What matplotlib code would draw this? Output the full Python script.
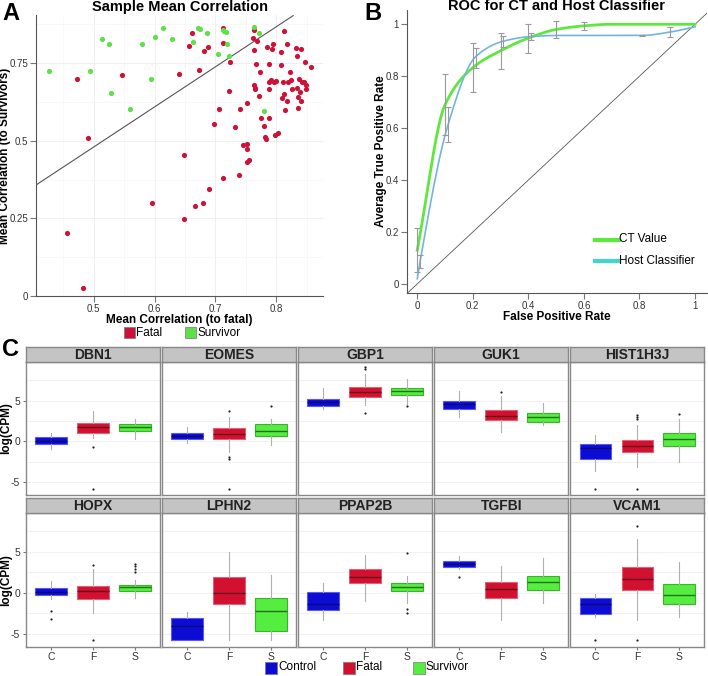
import numpy as np
import matplotlib
matplotlib.use("Agg")
import matplotlib.pyplot as plt
from matplotlib.patches import Rectangle

plt.rcParams['font.family'] = ['Liberation Sans', 'DejaVu Sans']

# ---------------- Panel A data ----------------
fatal_x = [0.473, 0.490, 0.547, 0.456, 0.482, 0.595, 0.641, 0.648, 0.648, 0.657,
           0.662, 0.666, 0.673, 0.680, 0.682, 0.688, 0.690, 0.697, 0.706, 0.712,
           0.713, 0.713, 0.722, 0.724, 0.732, 0.739, 0.740, 0.746, 0.752, 0.752,
           0.752, 0.755, 0.752, 0.763, 0.762, 0.763, 0.763, 0.765, 0.765, 0.767,
           0.769, 0.772, 0.774, 0.775, 0.780, 0.781, 0.784, 0.785, 0.788, 0.788,
           0.789, 0.788, 0.791, 0.793, 0.794, 0.796, 0.799, 0.798, 0.803, 0.808,
           0.808, 0.810, 0.811, 0.813, 0.813, 0.815, 0.817, 0.817, 0.819, 0.822,
           0.824, 0.826, 0.832, 0.834, 0.834, 0.836, 0.837, 0.836, 0.839, 0.840,
           0.841, 0.842, 0.845, 0.848, 0.849, 0.849, 0.857]
fatal_y = [0.700, 0.509, 0.712, 0.203, 0.025, 0.300, 0.714, 0.454, 0.248, 0.806,
           0.848, 0.291, 0.727, 0.301, 0.788, 0.801, 0.344, 0.553, 0.602, 0.864,
           0.815, 0.381, 0.661, 0.755, 0.544, 0.389, 0.602, 0.487, 0.491, 0.473,
           0.433, 0.438, 0.622, 0.856, 0.830, 0.792, 0.678, 0.671, 0.666, 0.747,
           0.820, 0.645, 0.722, 0.572, 0.547, 0.512, 0.506, 0.801, 0.746, 0.690,
           0.668, 0.572, 0.695, 0.796, 0.813, 0.690, 0.693, 0.519, 0.525, 0.744,
           0.786, 0.638, 0.689, 0.853, 0.652, 0.598, 0.629, 0.812, 0.690, 0.723,
           0.695, 0.667, 0.799, 0.774, 0.671, 0.641, 0.698, 0.607, 0.656, 0.629,
           0.794, 0.690, 0.690, 0.753, 0.678, 0.667, 0.738]
surv_x = [0.426, 0.494, 0.514, 0.525, 0.529, 0.559, 0.580, 0.594, 0.600, 0.614,
          0.629, 0.664, 0.671, 0.674, 0.686, 0.704, 0.712, 0.715, 0.718, 0.719,
          0.723, 0.763, 0.771, 0.780]
surv_y = [0.724, 0.724, 0.828, 0.810, 0.655, 0.601, 0.813, 0.698, 0.835, 0.862,
          0.829, 0.819, 0.863, 0.861, 0.847, 0.778, 0.858, 0.854, 0.850, 0.812,
          0.773, 0.865, 0.847, 0.595]
ref_slope = 1.29
ref_intercept = -0.165

# ---------------- Panel B data ----------------
ct_fpr = [0.0, 0.1, 0.2, 0.3, 0.4, 0.5, 0.6, 0.7, 0.8, 0.9, 1.0]
ct_tpr = [0.13, 0.69, 0.833, 0.898, 0.947, 0.980, 0.994, 1.0, 1.0, 1.0, 1.0]
ct_err_x = [0.0, 0.1, 0.2, 0.3, 0.4, 0.5, 0.6]
ct_err_lo = [0.044, 0.574, 0.738, 0.828, 0.891, 0.947, 0.978]
ct_err_hi = [0.217, 0.809, 0.927, 0.968, 1.003, 1.014, 1.010]
host_fpr = [0.0, 0.01, 0.11, 0.21, 0.31, 0.41, 0.51, 0.61, 0.71, 0.81, 0.91, 1.0]
host_tpr = [0.02, 0.086, 0.61, 0.875, 0.935, 0.953, 0.957, 0.957, 0.957, 0.957, 0.97, 0.99]
host_err_x = [0.01, 0.11, 0.21, 0.31, 0.41, 0.81, 0.91]
host_err_lo = [0.060, 0.547, 0.830, 0.914, 0.940, 0.955, 0.950]
host_err_hi = [0.112, 0.680, 0.908, 0.955, 0.965, 0.960, 0.988]

# ---------------- Panel C data ----------------
genes = ['DBN1', 'EOMES', 'GBP1', 'GUK1', 'HIST1H3J',
         'HOPX', 'LPHN2', 'PPAP2B', 'TGFBI', 'VCAM1']
groups = ['C', 'F', 'S']
box_med = [[0.08, 1.76, 1.71], [0.69, 0.90, 1.27], [4.82, 6.08, 6.16], [4.57, 3.18, 3.02], [-0.86, -0.57, 0.24],
           [0.10, 0.16, 0.73], [-4.07, 0.00, -2.24], [-1.34, 1.91, 0.73], [3.58, 0.41, 1.30], [-1.42, 1.71, -0.33]]
box_q1 = [[-0.33, 1.06, 1.27], [0.33, 0.24, 0.65], [4.41, 5.51, 5.71], [4.04, 2.57, 2.41], [-2.16, -1.35, -0.57],
          [-0.33, -0.73, 0.24], [-5.77, -1.42, -4.63], [-2.11, 1.18, 0.16], [3.21, -0.61, 0.28], [-2.56, 0.33, -1.42]]
box_q3 = [[0.49, 2.20, 2.12], [1.06, 1.63, 2.12], [5.22, 6.73, 6.61], [5.02, 3.88, 3.51], [-0.33, 0.12, 0.98],
          [0.57, 0.89, 0.98], [-3.05, 1.91, -0.61], [0.08, 2.93, 1.22], [3.90, 1.26, 2.11], [-0.61, 3.13, 1.10]]
box_wlo = [[-0.98, 0.37, 0.33], [-0.16, -1.27, -0.45], [4.00, 4.53, 4.65], [3.02, 1.18, 2.00], [-3.59, -3.18, -2.49],
           [-0.73, -2.48, -0.61], [-5.77, -5.77, -5.77], [-3.33, -1.02, -1.22], [2.93, -3.33, -1.22], [-2.97, -3.37, -2.97]]
box_whi = [[1.06, 3.76, 2.78], [1.80, 3.00, 2.69], [6.57, 8.30, 7.71], [6.16, 5.55, 4.69], [0.73, 1.96, 2.78],
           [1.38, 2.85, 1.54], [-2.32, 5.04, 2.20], [1.22, 4.67, 2.11], [4.47, 3.33, 4.27], [-0.20, 6.59, 3.78]]
box_out = [[[], [-0.73, -5.88], []], [[], [3.76, -1.88, -2.20, -5.88], [4.37]],
           [[], [8.94, 9.10, 3.47], [4.41]], [[], [6.04], []],
           [[-5.88], [3.27, 3.02, 2.78, -5.88], [3.39]],
           [[-2.24, -3.17], [3.41, -5.77], [3.58, 3.25, 2.93, 2.60]], [[], [], []],
           [[], [], [4.84, -2.03, -2.44]], [[1.87], [], []], [[-5.77], [8.13, -5.77], []]]

W, H = 708, 676
fig = plt.figure(figsize=(W / 100, H / 100), dpi=100)


def rect(l, t, r, b):
    return [l / W, 1 - b / H, (r - l) / W, (b - t) / H]


RED = '#cc1236'
GREEN = '#5ee04a'
TICKC = '#777777'

# ---------------- Panel A ----------------
A_L, A_R = 36, 323
axA = fig.add_axes(rect(A_L, 15, A_R, 296))
axA.scatter(fatal_x, fatal_y, s=14, color=RED, linewidths=0, zorder=3)
axA.scatter(surv_x, surv_y, s=14, color=GREEN, linewidths=0, zorder=3)
xl = np.array([0.405, 0.828])
axA.plot(xl, ref_intercept + ref_slope * xl, color='#555555', lw=0.8, zorder=2)
axA.set_xlim(0.405, 0.877)
axA.set_ylim(0, 0.905)
axA.set_xticks([0.5, 0.6, 0.7, 0.8])
axA.set_xticklabels(['0.5', '0.6', '0.7', '0.8'])
axA.set_yticks([0, 0.25, 0.5, 0.75])
axA.set_yticklabels(['0', '0.25', '0.5', '0.75'])
axA.set_xticks([0.45, 0.55, 0.65, 0.75, 0.85], minor=True)
axA.set_yticks([0.125, 0.375, 0.625, 0.875], minor=True)
axA.tick_params(labelsize=7, length=4.5, width=0.8, color=TICKC, pad=1, labelcolor='#333333')
axA.tick_params(which='minor', length=0)
axA.grid(True, which='major', color='#ececec', lw=0.6)
axA.grid(True, which='minor', color='#f5f5f5', lw=0.5)
axA.set_axisbelow(True)
for s in ['top', 'right']:
    axA.spines[s].set_visible(False)
for s in ['left', 'bottom']:
    axA.spines[s].set_color('#555555')
    axA.spines[s].set_linewidth(0.8)
axA.set_xlabel('Mean Correlation (to fatal)', fontsize=8.5, fontweight='bold', labelpad=0)
axA.set_ylabel('Mean Correlation (to Survivors)', fontsize=8.5, fontweight='bold')
axA.yaxis.set_label_coords((11 - A_L) / (A_R - A_L), 0.5)
fig.text(180 / W, 1 - 10.5 / H, 'Sample Mean Correlation', ha='center', va='baseline',
         fontsize=10.5, fontweight='bold')
fig.text(2 / W, 1 - 20 / H, 'A', ha='left', va='baseline', fontsize=17, fontweight='bold')

# legend A
for px, lab, col in [(124, 'Fatal', RED), (185, 'Survivor', GREEN)]:
    fig.patches.append(Rectangle((px / W, 1 - 338 / H), 11 / W, 11 / H, transform=fig.transFigure,
                                 facecolor=col, edgecolor='#777777', lw=0.5))
    fig.text((px + 12) / W, 1 - 332.5 / H, lab, ha='left', va='center', fontsize=8.5)


# ---------------- Panel B ----------------
def pchip(x, y, xs):
    x = np.asarray(x, float); y = np.asarray(y, float)
    h = np.diff(x); d = np.diff(y) / h
    n = len(x); m = np.zeros(n)
    m[0] = d[0]; m[-1] = d[-1]
    for k in range(1, n - 1):
        if d[k - 1] * d[k] <= 0:
            m[k] = 0
        else:
            w1 = 2 * h[k] + h[k - 1]; w2 = h[k] + 2 * h[k - 1]
            m[k] = (w1 + w2) / (w1 / d[k - 1] + w2 / d[k])
    idx = np.clip(np.searchsorted(x, xs) - 1, 0, n - 2)
    t = (xs - x[idx]) / h[idx]
    h00 = 2 * t**3 - 3 * t**2 + 1; h10 = t**3 - 2 * t**2 + t
    h01 = -2 * t**3 + 3 * t**2; h11 = t**3 - t**2
    return h00 * y[idx] + h10 * h[idx] * m[idx] + h01 * y[idx + 1] + h11 * h[idx] * m[idx + 1]


B_L, B_R = 406.7, 706.7
axB = fig.add_axes(rect(B_L, 10, B_R, 293))
axB.set_xlim(-0.038, 1.042)
axB.set_ylim(-0.035, 1.055)
axB.plot([-0.038, 1.042], [-0.038, 1.042], color='#555555', lw=0.6, zorder=1)
xs = np.linspace(0, 1, 400)
axB.plot(xs, pchip(ct_fpr, ct_tpr, xs), color='#5ee83c', lw=2.0, zorder=3)
axB.plot(xs, pchip(host_fpr, host_tpr, xs), color='#74b4dc', lw=1.2, zorder=3)
ct_mid = [(a + b) / 2 for a, b in zip(ct_err_lo, ct_err_hi)]
ct_half = [(b - a) / 2 for a, b in zip(ct_err_lo, ct_err_hi)]
axB.errorbar(ct_err_x, ct_mid, yerr=ct_half, fmt='none', ecolor='#999999', elinewidth=0.8,
             capsize=2, capthick=0.8, zorder=4)
h_mid = [(a + b) / 2 for a, b in zip(host_err_lo, host_err_hi)]
h_half = [(b - a) / 2 for a, b in zip(host_err_lo, host_err_hi)]
axB.errorbar(host_err_x, h_mid, yerr=h_half, fmt='none', ecolor='#999999', elinewidth=0.8,
             capsize=2, capthick=0.8, zorder=4)
axB.set_xticks([0, 0.2, 0.4, 0.6, 0.8, 1])
axB.set_xticklabels(['0', '0.2', '0.4', '0.6', '0.8', '1'])
axB.set_yticks([0, 0.2, 0.4, 0.6, 0.8, 1])
axB.set_yticklabels(['0', '0.2', '0.4', '0.6', '0.8', '1'])
axB.tick_params(labelsize=7, length=4.5, width=0.8, color=TICKC, pad=1, labelcolor='#333333')
for s in ['top', 'right']:
    axB.spines[s].set_visible(False)
for s in ['left', 'bottom']:
    axB.spines[s].set_color('#555555')
    axB.spines[s].set_linewidth(0.8)
axB.set_xlabel('False Positive Rate', fontsize=8.5, fontweight='bold', labelpad=0)
axB.set_ylabel('Average True Positive Rate', fontsize=8.5, fontweight='bold')
axB.yaxis.set_label_coords((387 - B_L) / (B_R - B_L), 0.5)
fig.text(557 / W, 1 - 10.5 / H, 'ROC for CT and Host Classifier', ha='center', va='baseline',
         fontsize=10.5, fontweight='bold')
fig.text(364 / W, 1 - 20 / H, 'B', ha='left', va='baseline', fontsize=17, fontweight='bold')
for py, lab, col in [(239.5, 'CT Value', '#5ee83c'), (261, 'Host Classifier', '#3cd8cc')]:
    fig.lines.append(plt.Line2D([595 / W, 619 / W], [1 - py / H, 1 - py / H], transform=fig.transFigure,
                                color=col, lw=3))
    fig.text(619 / W, 1 - py / H, lab, ha='left', va='center', fontsize=8.5)

# ---------------- Panel C ----------------
FILL = ['#0c0cd4', '#d2102f', '#55ee40']
EDGE = ['#5a5aee', '#e26078', '#3ab22c']
MEDC = ['#0a0a70', '#6a0a1a', '#23701c']
col_left = [25.7, 161.8, 297.9, 434.0, 570.1]
pw = 134.3
rows = [(347.3, 361.7, 495.0), (498.3, 512.7, 646.7)]
for gi, gene in enumerate(genes):
    r, c = divmod(gi, 5)
    st, pt, pb = rows[r]
    l = col_left[c]
    ax = fig.add_axes(rect(l, pt, l + pw, pb))
    stats = []
    for k in range(3):
        stats.append(dict(med=box_med[gi][k], q1=box_q1[gi][k], q3=box_q3[gi][k],
                          whislo=box_wlo[gi][k], whishi=box_whi[gi][k],
                          fliers=box_out[gi][k], label=groups[k]))
    for k in range(3):
        ax.bxp([stats[k]], positions=[k + 1], widths=0.75, patch_artist=True,
               boxprops=dict(facecolor=FILL[k], edgecolor=EDGE[k], lw=0.8),
               medianprops=dict(color=MEDC[k], lw=1.0),
               whiskerprops=dict(color='#b0b0b0', lw=0.8),
               capprops=dict(lw=0),
               flierprops=dict(marker='o', markersize=1.6, markerfacecolor='#222222',
                               markeredgecolor='none'),
               zorder=3)
    ax.set_xlim(0.4, 3.6)
    ax.set_ylim(-6.6, 9.8)
    ax.set_yticks([-5, 0, 5])
    ax.set_yticks([-2.5, 2.5, 7.5], minor=True)
    ax.grid(True, axis='y', which='both', color='#efefef', lw=0.6)
    ax.set_axisbelow(True)
    ax.set_xticks([1, 2, 3])
    for s in ax.spines.values():
        s.set_color('#888888')
        s.set_linewidth(1.0)
    ax.tick_params(which='minor', length=0)
    if r == 1:
        ax.set_xticklabels(groups, fontsize=7.5)
        ax.tick_params(axis='x', length=2.5, color=TICKC, pad=1.5, labelcolor='#333333')
    else:
        ax.set_xticklabels([])
        ax.tick_params(axis='x', length=0)
    if c == 0:
        ax.set_yticklabels(['-5', '0', '5'], fontsize=7.5)
        ax.tick_params(axis='y', length=2.5, color=TICKC, pad=1.5, labelcolor='#333333')
        ax.set_ylabel('log(CPM)', fontsize=8.5, fontweight='bold')
        ax.yaxis.set_label_coords((12 - l) / pw, 0.5)
    else:
        ax.set_yticklabels([])
        ax.tick_params(axis='y', length=0)
    ax.set_xlabel('')
    sax = fig.add_axes(rect(l, st, l + pw, pt))
    sax.set_xticks([]); sax.set_yticks([])
    sax.set_facecolor('#c4c4c4')
    for s in sax.spines.values():
        s.set_color('#888888')
        s.set_linewidth(1.0)
    sax.text(0.5, 0.45, gene, transform=sax.transAxes, ha='center', va='center',
             fontsize=10, fontweight='bold', color='#222222')

fig.text(2 / W, 1 - 356 / H, 'C', ha='left', va='baseline', fontsize=17, fontweight='bold')
for px, lab, col in [(265, 'Control', FILL[0]), (343, 'Fatal', FILL[1]), (413, 'Survivor', FILL[2])]:
    fig.patches.append(Rectangle((px / W, 1 - 673.5 / H), 12 / W, 12 / H, transform=fig.transFigure,
                                 facecolor=col, edgecolor='#777777', lw=0.5))
    fig.text((px + 13) / W, 1 - 667.5 / H, lab, ha='left', va='center', fontsize=8.5)

fig.savefig('out.png', dpi=100)
